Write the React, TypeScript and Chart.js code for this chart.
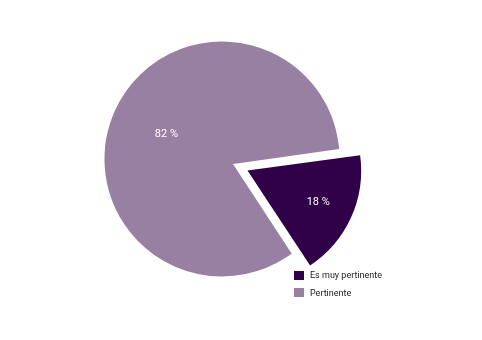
import { useEffect, useRef } from "react";
import { Chart, registerables } from "chart.js";

Chart.register(...registerables);

// Data
const categories = ["Es muy pertinente", "Pertinente"];
const shares = [18, 82];
const sliceColors = ["#300048", "#9780a1"];
// Exploded distance of each slice (Chart.js arc offset units)
const sliceOffsets = [112, 0];

const FONT = "Roboto, 'Noto Sans', Arial, sans-serif";

// Percentage labels drawn on each slice
const sliceLabels = {
  id: "sliceLabels",
  afterDatasetsDraw(chart: any) {
    const ctx = chart.ctx as CanvasRenderingContext2D;
    const meta = chart.getDatasetMeta(0);
    ctx.save();
    ctx.font = `11px ${FONT}`;
    ctx.fillStyle = "#ffffff";
    ctx.textAlign = "center";
    ctx.textBaseline = "middle";
    meta.data.forEach((arc: any, i: number) => {
      const { x, y, startAngle, endAngle, outerRadius } = arc.getProps(
        ["x", "y", "startAngle", "endAngle", "outerRadius"],
        true
      );
      const mid = (startAngle + endAngle) / 2;
      const shift = (sliceOffsets[i] || 0) / 4;
      const frac = sliceOffsets[i] ? 0.7 : 0.55;
      const d = shift + outerRadius * frac;
      ctx.fillText(`${shares[i]} %`, x + Math.cos(mid) * d, y + Math.sin(mid) * d);
    });
    ctx.restore();
  },
};

export default function App() {
  const canvasRef = useRef<HTMLCanvasElement | null>(null);

  useEffect(() => {
    if (!canvasRef.current) return;
    const chart = new Chart(canvasRef.current, {
      type: "pie",
      data: {
        labels: categories,
        datasets: [
          {
            data: shares,
            backgroundColor: sliceColors,
            borderColor: sliceColors,
            borderWidth: [0, 13],
            borderJoinStyle: "miter",
            offset: sliceOffsets,
            rotation: 82,
            radius: 111,
          } as any,
        ],
      },
      options: {
        animation: false,
        responsive: true,
        maintainAspectRatio: false,
        events: [],
        layout: { padding: { right: 38, bottom: 22 } },
        plugins: {
          legend: { display: false },
          tooltip: { enabled: false },
        },
      },
      plugins: [sliceLabels],
    });
    return () => chart.destroy();
  }, []);

  return (
    <div style={{ position: "relative", width: 466, height: 324, fontFamily: FONT }}>
      <div style={{ position: "absolute", left: 0, top: 0, width: 466, height: 324 }}>
        <canvas ref={canvasRef} />
      </div>
      <div style={{ position: "absolute", left: 286, top: 262 }}>
        {categories.map((name, i) => (
          <div
            key={name}
            style={{ display: "flex", alignItems: "center", height: 10, marginBottom: 7.5 }}
          >
            <span
              style={{ display: "inline-block", width: 10, height: 9, background: sliceColors[i] }}
            />
            <span
              style={{ marginLeft: 6, fontSize: 9, lineHeight: "10px", color: "#222222", whiteSpace: "nowrap" }}
            >
              {name}
            </span>
          </div>
        ))}
      </div>
    </div>
  );
}
